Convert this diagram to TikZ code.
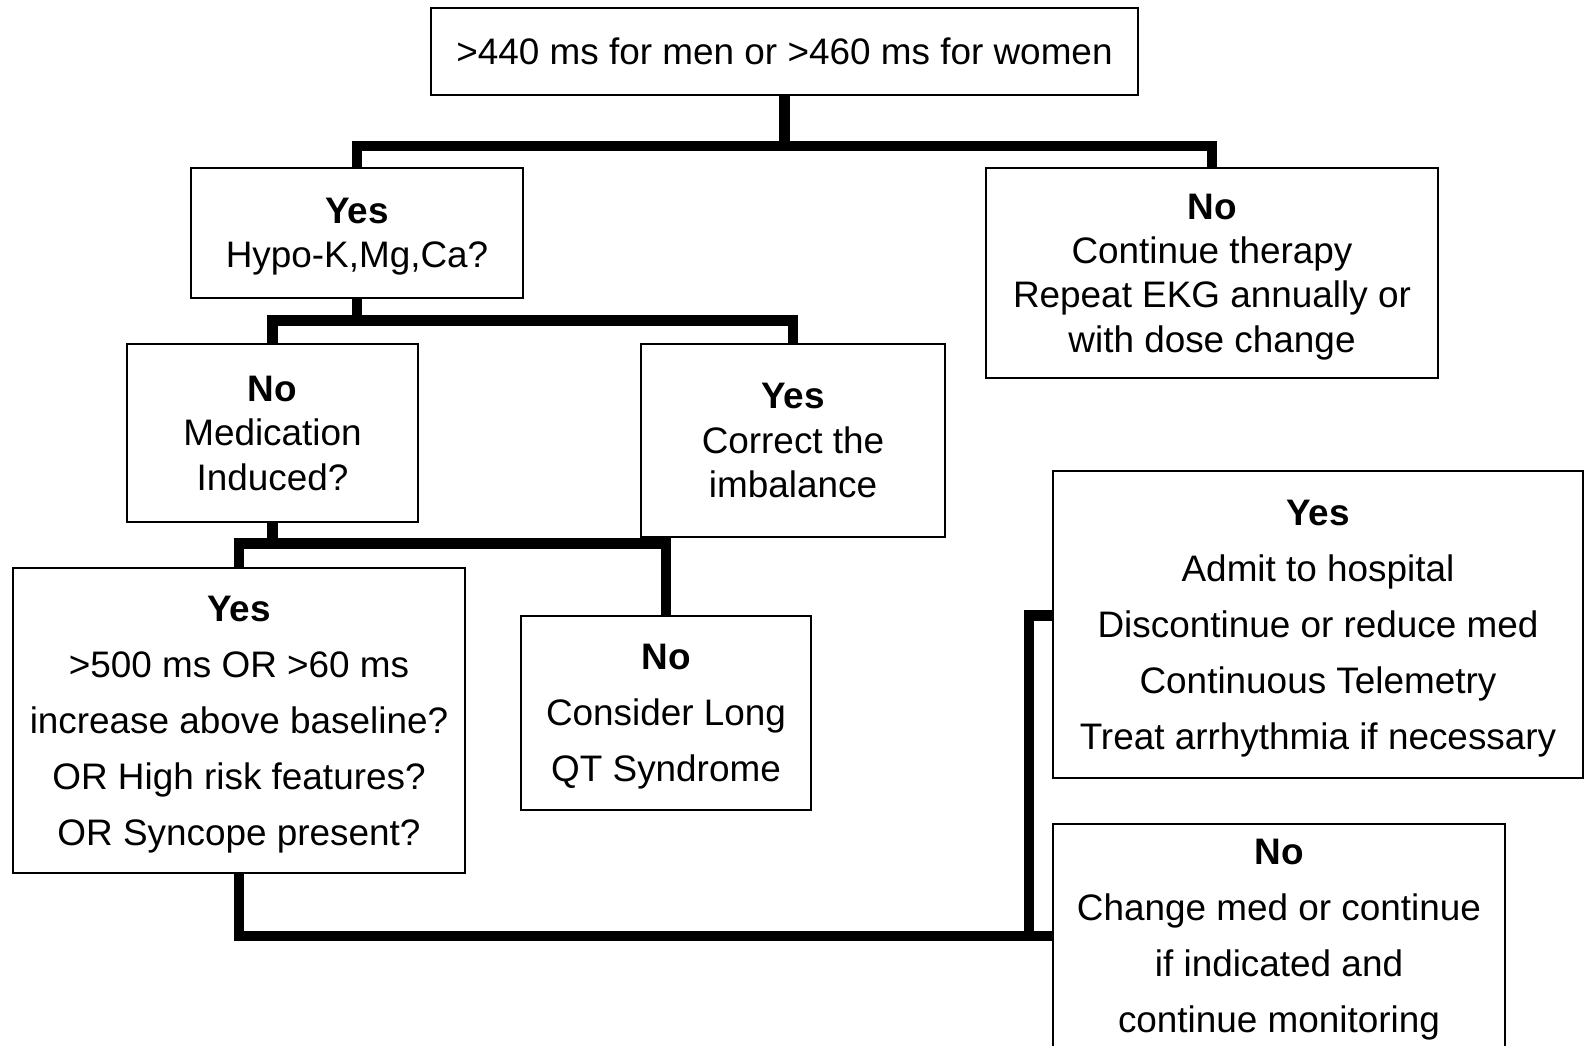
\documentclass[tikz,border=0pt]{standalone}
\usepackage{fontspec}
\setmainfont{Liberation Sans}
\usepackage{tikz}
\tikzstyle{block} = [rectangle, draw, line width=1.1pt, align=center,
    inner sep=0pt, text depth=0pt, font=\fontsize{21}{25.3}\selectfont]
\tikzstyle{tall} = [block, font=\fontsize{21}{31.9}\selectfont]
\tikzstyle{line} = [draw, line width=6.2pt]

\begin{document}
\begin{tikzpicture}[x=0.02cm, y=-0.02cm]
  \useasboundingbox (0,0) rectangle (1585,1045);
  \node [block, minimum width=14.14cm, minimum height=1.74cm] (qtc) at (784.5,51.5)
    {>440 ms for men or >460 ms for women};
  \node [block, minimum width=6.64cm, minimum height=2.6cm] (lytes) at (357,233)
    {\textbf{Yes}\\Hypo-K,Mg,Ca?};
  \node [block, minimum width=9.04cm, minimum height=4.2cm] (cont) at (1212,273)
    {\textbf{No}\\Continue therapy\\Repeat EKG annually or\\with dose change};
  \node [block, minimum width=5.82cm, minimum height=3.56cm] (med) at (272.5,433)
    {\textbf{No}\\Medication\\Induced?};
  \node [block, minimum width=6.08cm, minimum height=3.86cm] (fix) at (793,440.5)
    {\textbf{Yes}\\Correct the\\imbalance};
  \node [tall, minimum width=9.04cm, minimum height=6.1cm] (risk) at (239,720.5)
    {\textbf{Yes}\\>500 ms OR >60 ms\\increase above baseline?\\OR High risk features?\\OR Syncope present?};
  \node [tall, minimum width=5.8cm, minimum height=3.88cm] (lqt) at (666,713)
    {\textbf{No}\\Consider Long\\QT Syndrome};
  \node [tall, minimum width=10.6cm, minimum height=6.14cm] (admit) at (1318,624.5)
    {\textbf{Yes}\\Admit to hospital\\Discontinue or reduce med\\Continuous Telemetry\\Treat arrhythmia if necessary};
  \node [tall, minimum width=9.04cm, minimum height=4.48cm] (change) at (1279,936)
    {\textbf{No}\\Change med or continue\\if indicated and\\continue monitoring};
  \coordinate (jn) at (1029,936);

  \path [line] (qtc.south) -- ++(0,52);
  \path [line] (lytes.north) -- ++(0,-21) -| (cont.north);

  \path [line] (lytes.south) -- ++(0,23);
  \path [line] (med.north) -- ++(0,-23) -| (fix.north);

  \path [line] (med.south) -- ++(0,22);
  \path [line] (risk.north) -- ++(0,-24) -| (lqt.north);

  \path [line] (risk.south) |- (change.west);
  \path [line] (jn) |- ([yshift=0.18cm]admit.west);
\end{tikzpicture}
\end{document}
